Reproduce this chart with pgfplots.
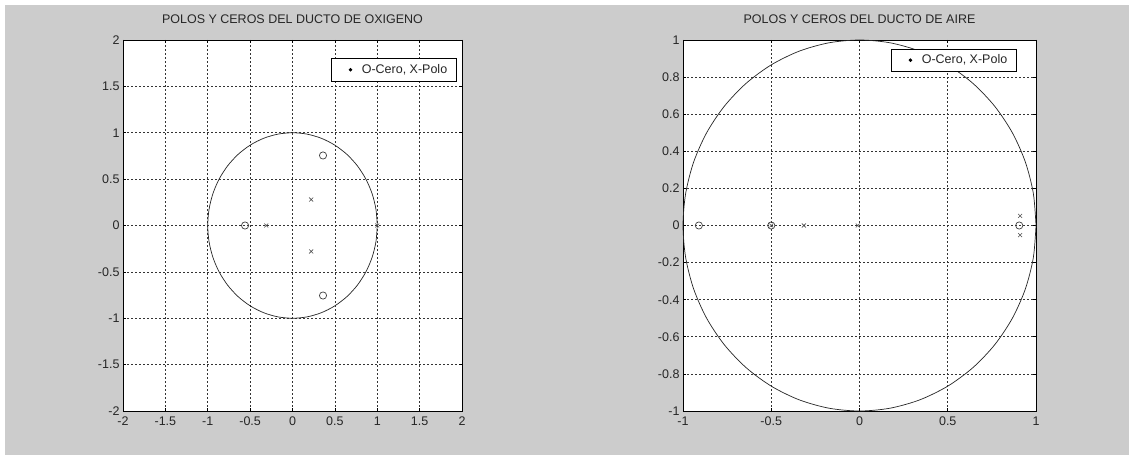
\documentclass[border=0pt]{standalone}
\usepackage{fontspec}
\setmainfont{Liberation Sans}
\usepackage{pgfplots}
\pgfplotsset{compat=1.18}

\definecolor{figbg}{RGB}{204,204,204}
\newcommand{\tickfont}{\fontsize{12.5bp}{14bp}\selectfont}

% unit circle, 10 degree steps
\pgfplotstableread{
x y
1 0
0.9848 0.1736
0.9397 0.3420
0.8660 0.5000
0.7660 0.6428
0.6428 0.7660
0.5000 0.8660
0.3420 0.9397
0.1736 0.9848
0 1
-0.1736 0.9848
-0.3420 0.9397
-0.5000 0.8660
-0.6428 0.7660
-0.7660 0.6428
-0.8660 0.5000
-0.9397 0.3420
-0.9848 0.1736
-1 0
-0.9848 -0.1736
-0.9397 -0.3420
-0.8660 -0.5000
-0.7660 -0.6428
-0.6428 -0.7660
-0.5000 -0.8660
-0.3420 -0.9397
-0.1736 -0.9848
0 -1
0.1736 -0.9848
0.3420 -0.9397
0.5000 -0.8660
0.6428 -0.7660
0.7660 -0.6428
0.8660 -0.5000
0.9397 -0.3420
0.9848 -0.1736
1 0
}\unitcircle

\pgfplotsset{
  zplane/.style={
    anchor=south west, scale only axis,
    axis background/.style={fill=white},
    axis line style={black, line width=0.8bp},
    tick style={black, line width=0.6bp},
    major tick length=3bp,
    tick align=inside,
    grid=major,
    major grid style={black!80, line width=0.6bp, dash pattern=on 2bp off 2bp},
    tick label style={font=\tickfont, text=black!85},
    xticklabel style={yshift=-2.5bp},
    title style={font=\fontsize{12.5bp}{14bp}\selectfont, text=black!85, at={(0.5,1)}, anchor=base, yshift=10.5bp},
    legend style={draw=black, line width=0.7bp, fill=white, font=\tickfont, text=black!85,
      anchor=north east, inner xsep=7bp, inner ysep=4bp},
    legend image code/.code={%
      \path (-12bp,0bp) (9bp,0bp);
      \fill[black] (0bp,0bp) circle (1.4bp);},
    legend cell align=left,
    clip=false,
  },
  zeros/.style={only marks, mark=o, mark size=3.6bp, black!75, mark options={line width=0.7bp}},
  poles/.style={only marks, mark=x, mark size=2.8bp, black!70, mark options={line width=0.6bp}},
}

\begin{document}
\begin{tikzpicture}
\fill[white] (0bp,0bp) rectangle (1129bp,457bp);
\fill[figbg] (5bp,2bp) rectangle (1129bp,452bp);

\begin{axis}[zplane,
  at={(123bp,46bp)}, width=339bp, height=371bp,
  xmin=-2, xmax=2, ymin=-2, ymax=2,
  xtick={-2,-1.5,-1,-0.5,0,0.5,1,1.5,2},
  xticklabels={-2,-1.5,-1,-0.5,0,0.5,1,1.5,2},
  ytick={-2,-1.5,-1,-0.5,0,0.5,1,1.5,2},
  yticklabels={-2,-1.5,-1,-0.5,0,0.5,1,1.5,2},
  title={POLOS Y CEROS DEL DUCTO DE OXIGENO},
  legend style={at={(0.984,0.951)}},
]
\addlegendimage{only marks}
\addlegendentry{O-Cero, X-Polo}
\addplot[black!85, line width=0.7bp, smooth, forget plot] table {\unitcircle};
\addplot[zeros, forget plot] coordinates {(-0.56,0) (0.36,0.755) (0.36,-0.755)};
\addplot[poles, forget plot] coordinates {(-0.31,0) (0.22,0.28) (0.22,-0.28) (1,0)};
\end{axis}

\begin{axis}[zplane,
  at={(683bp,46bp)}, width=353bp, height=371bp,
  xmin=-1, xmax=1, ymin=-1, ymax=1,
  xtick={-1,-0.5,0,0.5,1},
  xticklabels={-1,-0.5,0,0.5,1},
  ytick={-1,-0.8,-0.6,-0.4,-0.2,0,0.2,0.4,0.6,0.8,1},
  yticklabels={-1,-0.8,-0.6,-0.4,-0.2,0,0.2,0.4,0.6,0.8,1},
  title={POLOS Y CEROS DEL DUCTO DE AIRE},
  legend style={at={(0.945,0.977)}},
]
\addlegendimage{only marks}
\addlegendentry{O-Cero, X-Polo}
\addplot[black!85, line width=0.7bp, smooth, forget plot] table {\unitcircle};
\addplot[zeros, forget plot] coordinates {(-0.91,0) (-0.5,0) (0.905,0)};
\addplot[poles, forget plot] coordinates {(-0.5,0) (-0.315,0) (-0.01,0) (0.91,0.052) (0.91,-0.052)};
\end{axis}
\end{tikzpicture}
\end{document}
